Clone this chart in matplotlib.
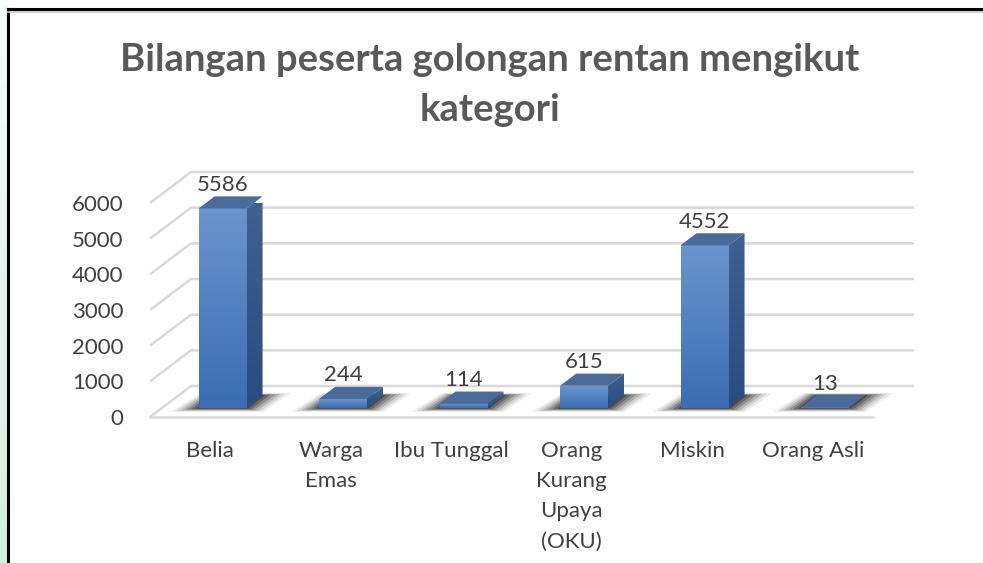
import matplotlib
matplotlib.use('Agg')
import matplotlib.pyplot as plt
import numpy as np
from matplotlib.patches import Polygon
from matplotlib.colors import LinearSegmentedColormap

categories = ['Belia', 'Warga\nEmas', 'Ibu Tunggal', 'Orang\nKurang\nUpaya\n(OKU)', 'Miskin', 'Orang Asli']
values = [5586, 244, 114, 615, 4552, 13]
yticks = [0, 1000, 2000, 3000, 4000, 5000, 6000]
title = 'Bilangan peserta golongan rentan mengikut\nkategori'

plt.rcParams['font.family'] = ['Lato', 'DejaVu Sans']

W, H = 983, 563
fig = plt.figure(figsize=(W/100, H/100), dpi=100)
fig.patch.set_facecolor('white')

# light green strip on the left + top, outside the black frame
bg = fig.add_axes([0, 0, 8/W, 1])
grad = np.linspace(0, 1, 100).reshape(-1, 1)
bg.imshow(grad, aspect='auto', extent=[0, 1, 0, 1], origin='upper',
          cmap=LinearSegmentedColormap.from_list('g', ['#f7fbfc', '#d6ede0']))
bg.axis('off')
top = fig.add_axes([0, 1-9/H, 1, 9/H])
top.set_facecolor('#f8fbfb'); top.axis('off')
fig.add_artist(plt.Line2D([8/W, 8/W], [0, 1-9/H], color='black', lw=2.2))
fig.add_artist(plt.Line2D([8/W, 1], [1-9/H, 1-9/H], color='black', lw=2.2))
fig.add_artist(plt.Line2D([8/W, 1], [1-11.5/H, 1-11.5/H], color='#c8c8c8', lw=1.2))

fig.text(490/W, 1-85/H, title, ha='center', va='center', fontsize=27.5,
         fontweight='bold', color='#595959', linespacing=1.55)

# main axes: front plane, x in category units, y in value units
x0px, x1px = 150, 873
y0px, y6px = 417, 203
ax = fig.add_axes([x0px/W, 1-y0px/H, (x1px-x0px)/W, (y0px-y6px)/H])
ax.set_xlim(-0.5, 5.5)
ax.set_ylim(0, 6000)
for s in ax.spines.values():
    s.set_visible(False)
ax.patch.set_alpha(0)

pxx = 6/(x1px-x0px)          # cat units per px
pxy = 6000/(y0px-y6px)       # value units per px
DX, DY = 41*pxx, 31*pxy      # full depth of the floor
grid_c = '#d9d9d9'

# back wall gridlines + floor
for v in yticks:
    ax.plot([-0.5, -0.5+DX, 5.5+DX], [v, v+DY, v+DY], color=grid_c, lw=1.8,
            clip_on=False, zorder=1, solid_capstyle='butt')
ax.plot([-0.5, 5.5], [0, 0], color=grid_c, lw=1.8, clip_on=False, zorder=1)

ax.set_yticks(yticks)
ax.set_yticklabels([str(v) for v in yticks])
ax.set_xticks(range(len(categories)))
ax.set_xticklabels(categories, linespacing=1.65, va='top')
ax.tick_params(axis='y', length=0, pad=19, labelsize=16, labelcolor='#404040')
ax.tick_params(axis='x', length=0, pad=17, labelsize=16, labelcolor='#404040')

front_cmap = LinearSegmentedColormap.from_list('f', ['#3a6db3', '#6a94cd'])
side_cmap = LinearSegmentedColormap.from_list('s', ['#284c7d', '#3f6192'])
top_c = '#4a6a99'

t0, t1 = 0.30, 0.69
bw = 48*pxx
for i, v in enumerate(values):
    fx = i + t0*DX
    fy = t0*DY
    bx = i + t1*DX
    by = t1*DY
    l, r = fx - bw/2, fx + bw/2
    # soft shadow on the floor
    for k, a in enumerate([0.08, 0.12, 0.17, 0.23, 0.30, 0.40]):
        e = (28 - 5*k)*pxx
        ey = (4 - 0.6*k)*pxy
        shadow = Polygon([(l-e, fy-ey), (r+e*0.6, fy-ey), (r+(bx-fx)+e, by+ey*0.6),
                          (l+(bx-fx)-e*0.5, by+ey*0.6)],
                         closed=True, facecolor='#1a1a1a', alpha=a, lw=0,
                         clip_on=False, zorder=2)
        ax.add_patch(shadow)
    # front face
    g = np.linspace(0, 1, 64).reshape(-1, 1)
    ax.imshow(g, extent=[l, r, fy, fy+v], origin='lower', aspect='auto',
              cmap=front_cmap, zorder=4, clip_on=False)
    # side face
    side = Polygon([(r, fy), (r+(bx-fx), by), (r+(bx-fx), by+v), (r, fy+v)],
                   closed=True, facecolor='none', lw=0)
    ax.add_patch(side)
    ims = ax.imshow(g, extent=[r, r+(bx-fx), fy, by+v], origin='lower', aspect='auto',
                    cmap=side_cmap, zorder=4)
    ims.set_clip_path(side)
    # top face
    ax.add_patch(Polygon([(l, fy+v), (r, fy+v), (r+(bx-fx), by+v), (l+(bx-fx), by+v)],
                         closed=True, facecolor=top_c, lw=0, zorder=5, clip_on=False))
    ax.annotate(str(v), (fx, by+v), xytext=(0, 4), textcoords='offset points',
                ha='center', va='baseline', fontsize=16, color='#404040',
                annotation_clip=False, zorder=6)

ax.set_xlim(-0.5, 5.5)
ax.set_ylim(0, 6000)

fig.savefig('out.png', dpi=100)
